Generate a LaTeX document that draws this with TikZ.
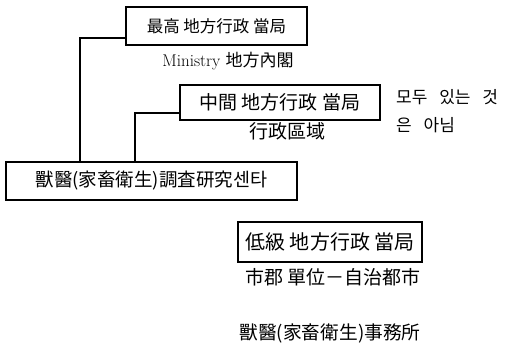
\documentclass[tikz,border=0pt]{standalone}
\usepackage{fontspec}
\newfontfamily\cjk{Noto Sans CJK KR}
\usetikzlibrary{positioning}

\tikzset{
  office/.style={draw, line width=1.1pt, inner sep=0pt},
  note/.style={inner sep=0pt}
}

\begin{document}
\begin{tikzpicture}[x=1pt, y=-1pt]
        \useasboundingbox (0,0) rectangle (507,347);

        \node[office, minimum width=181pt, minimum height=38pt, font=\cjk\fontsize{16.5}{18}\selectfont] (top) at (216.5,26) {最高 地方行政 當局};
        \node[note, font=\fontsize{17}{18}\selectfont] (toplbl) at (228,61) {Ministry {\cjk 地方內閣}};

        \node[office, minimum width=200pt, minimum height=35pt, font=\cjk\fontsize{19}{20}\selectfont] (mid) at (280,102.5) {中間 地方行政 當局};
        \node[note, font=\cjk\fontsize{19}{20}\selectfont] (midlbl) at (287,131) {行政區域};
        \node[note, anchor=west, align=left, font=\cjk\fontsize{17}{28}\selectfont] (remark) at (396,111) {모두\hspace{8pt} 있는\hspace{8pt} 것\\은\hspace{8pt} 아님};

        \node[office, minimum width=291pt, minimum height=38pt, font=\cjk\fontsize{18.5}{20}\selectfont] (lab) at (151.5,181) {獸醫(家畜衛生)調査研究센타};

        \node[office, minimum width=184pt, minimum height=40pt, font=\cjk\fontsize{20}{22}\selectfont] (low) at (330,242) {低級 地方行政 當局};
        \node[note, font=\cjk\fontsize{19}{20}\selectfont] (lowlbl) at (333,277) {市郡 單位－自治都市};

        \node[note, font=\cjk\fontsize{18.7}{20}\selectfont] (vet) at (330,333) {獸醫(家畜衛生)事務所};

        \coordinate (k1) at (80,181);
        \coordinate (k2) at (135,181);
        \draw[line width=1.1pt] (top.west |- 0,38) -| (lab.north -| k1);
        \draw[line width=1.1pt] (mid.west |- 0,113) -| (lab.north -| k2);
    \end{tikzpicture}
\end{document}
